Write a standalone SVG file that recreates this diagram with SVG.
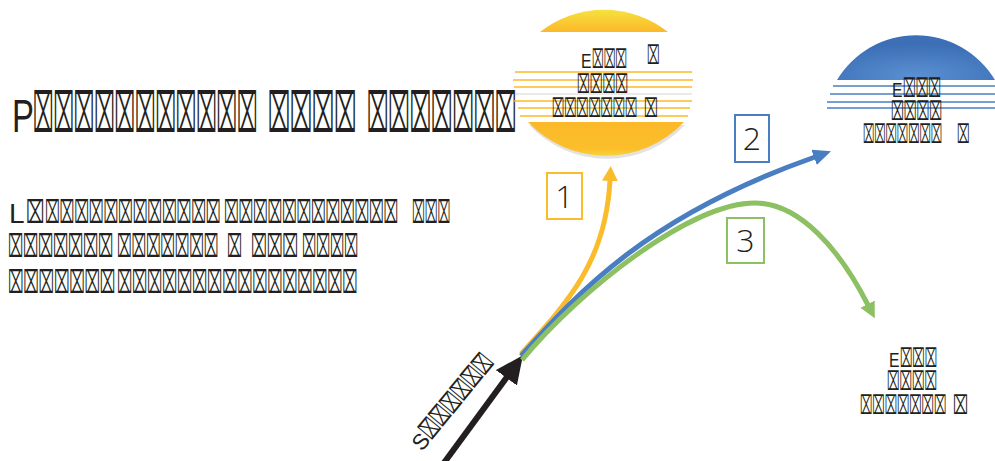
<svg xmlns="http://www.w3.org/2000/svg" width="995" height="461" viewBox="0 0 995 461">
<defs>
<style>
.t{font-family:"Liberation Sans","DejaVu Sans",sans-serif;fill:#231f20}
.b{font-family:"DejaVu Sans",sans-serif;fill:#231f20}
.ti{font-size:47px}
.p{font-size:28px}
.n{font-size:21px}
.bt{font-size:55px}
.bp{font-size:31.5px}
.bn{font-size:26px}
.num{font-family:"Open Sans","Liberation Sans",sans-serif;font-weight:300;font-size:32px;fill:#231f20;text-anchor:middle}
.ys{stroke:#fbb927;stroke-width:1.6}
.bs{stroke:#4a7ec2;stroke-width:1.6}
.c{fill:none;stroke-width:5}
</style>
<linearGradient id="gTop" x1="0" y1="0" x2="0" y2="1"><stop offset="0" stop-color="#f6e23e"/><stop offset="1" stop-color="#fcb82a"/></linearGradient>
<linearGradient id="gBot" x1="0" y1="0" x2="0" y2="1"><stop offset="0" stop-color="#fbb929"/><stop offset="0.8" stop-color="#fbbf2b"/><stop offset="1" stop-color="#f7d438"/></linearGradient>
<radialGradient id="gBlue" cx="0.5" cy="0.9" r="0.7"><stop offset="0" stop-color="#5a90d2"/><stop offset="1" stop-color="#3c6fb5"/></radialGradient>
<marker id="mY" viewBox="0 0 15 16" refX="1" refY="8" markerWidth="15" markerHeight="16" markerUnits="userSpaceOnUse" orient="auto"><path d="M0,0 L15,8 L0,16 z" fill="#fbbc2c"/></marker>
<marker id="mB" viewBox="0 0 18 16" refX="1" refY="8" markerWidth="18" markerHeight="16" markerUnits="userSpaceOnUse" orient="auto"><path d="M0,0 L18,8 L0,16 z" fill="#4a7ec2"/></marker>
<marker id="mG" viewBox="0 0 16 16" refX="1" refY="8" markerWidth="16" markerHeight="16" markerUnits="userSpaceOnUse" orient="auto"><path d="M0,0 L16,8 L0,16 z" fill="#8cc063"/></marker>
<marker id="mK" viewBox="0 0 28 26" refX="1" refY="13" markerWidth="28" markerHeight="26" markerUnits="userSpaceOnUse" orient="auto"><path d="M0,0 L28,13 L0,26 z" fill="#231f20"/></marker>
</defs>
<rect width="995" height="461" fill="#ffffff"/>

<g id="title">
<text class="t ti" transform="translate(12 132) scale(0.7 1)">P</text>
<text class="b bt" transform="translate(33 132) scale(0.322 1)">⌧⌧⌧⌧⌧⌧⌧⌧⌧⌧⌧</text>
<text class="b bt" transform="translate(268 132) scale(0.348 1)">⌧⌧⌧⌧</text>
<text class="b bt" transform="translate(367 132) scale(0.337 1)">⌧⌧⌧⌧⌧⌧⌧</text>
</g>

<g id="paragraph">
<text class="t p" x="9" y="223">L</text>
<text class="b bp" transform="translate(26 223) scale(0.5 1)">⌧</text>
<text class="b bp" transform="translate(45 223) scale(0.403 1)">⌧⌧⌧⌧⌧⌧⌧⌧⌧⌧⌧⌧</text>
<text class="b bp" transform="translate(224 223) scale(0.4 1)">⌧⌧⌧⌧⌧⌧⌧⌧⌧⌧⌧⌧</text>
<text class="b bp" transform="translate(412 223) scale(0.35 1)">⌧⌧⌧</text>
<text class="b bp" transform="translate(8 257) scale(0.414 1)">⌧⌧⌧⌧⌧⌧⌧</text>
<text class="b bp" transform="translate(117 257) scale(0.398 1)">⌧⌧⌧⌧⌧⌧⌧</text>
<text class="b bp" transform="translate(227 257) scale(0.41 1)">⌧</text>
<text class="b bp" transform="translate(251 257) scale(0.432 1)">⌧⌧⌧</text>
<text class="b bp" transform="translate(302 257) scale(0.386 1)">⌧⌧⌧⌧</text>
<text class="b bp" transform="translate(8 293) scale(0.422 1)">⌧⌧⌧⌧⌧⌧⌧</text>
<text class="b bp" transform="translate(117 293) scale(0.414 1)">⌧⌧⌧⌧⌧⌧⌧⌧⌧⌧⌧⌧⌧⌧⌧⌧</text>
</g>

<g id="exit1">
<path d="M540 32 A103 103 0 0 1 668 32 Z" fill="url(#gTop)"/>
<path d="M529 125 A107 107 0 0 0 685 125 Z" fill="#cfcfcf" opacity="0.6"/>
<path d="M528 122 A107 107 0 0 0 684 122 Z" fill="url(#gBot)"/>
<line class="ys" x1="515" y1="72" x2="692" y2="72"/>
<line class="ys" x1="513" y1="80" x2="693" y2="80"/>
<line class="ys" x1="514" y1="87" x2="692" y2="87"/>
<line x1="515" y1="94" x2="692" y2="94" stroke="#d6d6d6" stroke-width="1.2"/>
<line class="ys" x1="514" y1="101" x2="692" y2="101"/>
<line class="ys" x1="518" y1="108" x2="690" y2="108"/>
<line class="ys" x1="520" y1="116" x2="688" y2="116"/>
<text class="t n" transform="translate(581 68) scale(0.75 1)">E</text>
<text class="b bn" transform="translate(592 68) scale(0.39 1)">⌧⌧⌧</text>
<text class="b bn" transform="translate(647 64) scale(0.42 1)">⌧</text>
<text class="b bn" transform="translate(577 93) scale(0.426 1)">⌧⌧⌧⌧</text>
<text class="b bn" transform="translate(552 117) scale(0.406 1)">⌧⌧⌧⌧⌧⌧⌧</text>
<text class="b bn" transform="translate(644 117) scale(0.46 1)">⌧</text>
</g>

<g id="exit2">
<path d="M837 80 A92 92 0 0 1 995 80 Z" fill="url(#gBlue)"/>
<line class="bs" x1="833" y1="86" x2="995" y2="86"/>
<line class="bs" x1="830" y1="94" x2="995" y2="94"/>
<line class="bs" x1="827" y1="102" x2="995" y2="102"/>
<line class="bs" x1="827" y1="108" x2="995" y2="108"/>
<text class="t n" transform="translate(892 97) scale(0.75 1)">E</text>
<text class="b bn" transform="translate(903 97) scale(0.423 1)">⌧⌧⌧</text>
<text class="b bn" transform="translate(891 120) scale(0.426 1)">⌧⌧⌧⌧</text>
<text class="b bn" transform="translate(863 143) scale(0.377 1)">⌧⌧⌧⌧⌧⌧⌧</text>
<text class="b bn" transform="translate(957 143) scale(0.42 1)">⌧</text>
</g>

<g id="exit3">
<text class="t n" transform="translate(889 367) scale(0.75 1)">E</text>
<text class="b bn" transform="translate(900 367) scale(0.412 1)">⌧⌧⌧</text>
<text class="b bn" transform="translate(887 390) scale(0.417 1)">⌧⌧⌧⌧</text>
<text class="b bn" transform="translate(860 414) scale(0.411 1)">⌧⌧⌧⌧⌧⌧⌧</text>
<text class="b bn" transform="translate(953 414) scale(0.5 1)">⌧</text>
</g>

<g id="start" transform="translate(422 452) rotate(-50.6)">
<text class="t" style="font-size:22px" x="0" y="0">S</text>
<text class="b bn" transform="translate(15 0) scale(0.557 1)">⌧⌧⌧⌧⌧⌧</text>
</g>

<g id="connectors">
<line x1="438" y1="471" x2="507" y2="377" stroke="#231f20" stroke-width="6" marker-end="url(#mK)"/>
<path class="c" d="M521 354 C570 300 606 260 610 180" stroke="#fbbc2c" marker-end="url(#mY)"/>
<path class="c" d="M521 356 C580 290 650 215 815 157" stroke="#4a7ec2" marker-end="url(#mB)"/>
<path class="c" d="M522 360 C580 290 690 203 755 203 C800 203 840 250 868 305" stroke="#8cc063" marker-end="url(#mG)"/>
</g>

<g id="label1">
<rect x="547" y="173" width="35" height="46" fill="none" stroke="#fbbc2c" stroke-width="2"/>
<text class="num" x="564.5" y="208">1</text>
</g>
<g id="label2">
<rect x="735" y="115" width="34" height="47" fill="none" stroke="#4a7ec2" stroke-width="2"/>
<text class="num" x="752" y="150">2</text>
</g>
<g id="label3">
<rect x="727" y="218" width="37" height="45" fill="none" stroke="#8cc063" stroke-width="2"/>
<text class="num" x="745.5" y="252">3</text>
</g>
</svg>
